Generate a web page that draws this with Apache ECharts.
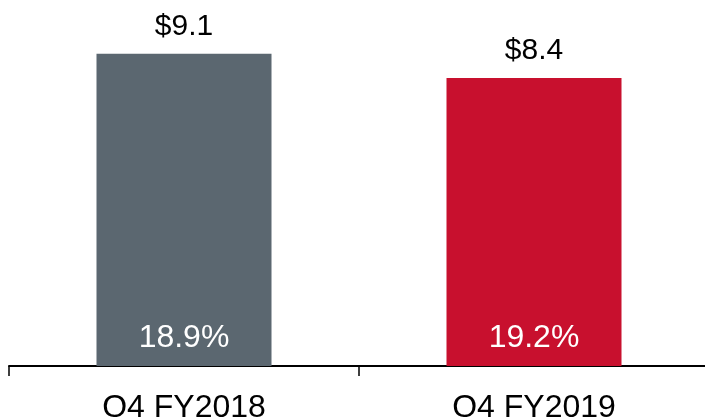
<!DOCTYPE html>
<html>
<head>
<meta charset="utf-8">
<script src="https://cdn.jsdelivr.net/npm/echarts@6/dist/echarts.min.js"></script>
<style>
  html, body { margin: 0; padding: 0; background: #fff; }
  #chart { width: 705px; height: 417px; }
</style>
</head>
<body>
<div id="chart"></div>
<script>
const categories = ['Q4 FY2018', 'Q4 FY2019']
const revenue = [9.1, 8.4]          // $ label above each bar
const margins = ['18.9%', '19.2%']  // label inside bottom of each bar
const barColors = ['#5b6770', '#c8102e']

const chart = echarts.init(document.getElementById('chart'))

const option = {
  animation: false,
  grid: { left: 9, right: -4, top: 23, bottom: 51, outerBoundsMode: 'none' },
  xAxis: {
    type: 'category',
    data: categories,
    axisLine: { lineStyle: { color: '#000', width: 2 } },
    axisTick: { show: true, length: 10, lineStyle: { color: '#000', width: 1.5 } },
    axisLabel: {
      color: '#000',
      fontSize: 32,
      fontFamily: 'Liberation Sans, Arial, sans-serif',
      margin: 26
    }
  },
  yAxis: {
    type: 'value',
    min: 0,
    max: 10,
    show: false,
    splitLine: { show: false }
  },
  series: [
    {
      type: 'bar',
      barWidth: 175,
      data: revenue.map((v, i) => ({ value: v, itemStyle: { color: barColors[i] } })),
      label: {
        show: true,
        position: 'top',
        distance: 12,
        color: '#000',
        fontSize: 30,
        fontFamily: 'Liberation Sans, Arial, sans-serif',
        formatter: p => '$' + p.value.toFixed(1)
      }
    },
    {
      // transparent overlay only to carry the margin labels
      type: 'bar',
      barWidth: 175,
      barGap: '-100%',
      silent: true,
      itemStyle: { color: 'rgba(0,0,0,0)' },
      data: revenue,
      label: {
        show: true,
        position: 'insideBottom',
        distance: 12,
        color: '#fff',
        fontSize: 32,
        fontFamily: 'Liberation Sans, Arial, sans-serif',
        formatter: p => margins[p.dataIndex]
      }
    }
  ]
}

chart.setOption(option)
</script>
</body>
</html>
